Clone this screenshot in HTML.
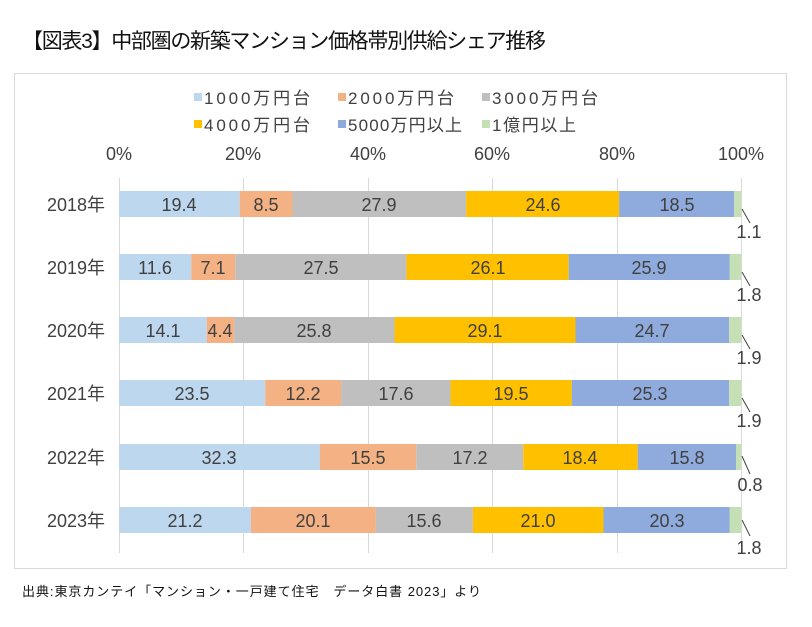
<!DOCTYPE html>
<html><head><meta charset="utf-8"><style>
html,body{margin:0;padding:0;background:#fff}
svg{display:block}
text{font-family:"Liberation Sans","Noto Sans CJK JP",sans-serif;fill:#404040}
</style></head><body>
<svg width="812" height="627" viewBox="0 0 812 627" xmlns="http://www.w3.org/2000/svg">
<text x="22" y="48" font-size="21" style="fill:#111" textLength="524">【図表3】中部圏の新築マンション価格帯別供給シェア推移</text>
<rect x="14.5" y="73.5" width="772" height="495" fill="#fff" stroke="#d9d9d9"/>
<g font-size="17">
<rect x="194" y="93" width="8" height="8" fill="#BDD7EE"/><text x="204" y="104" textLength="106">1000万円台</text>
<rect x="338" y="93" width="8" height="8" fill="#F4B183"/><text x="348" y="104" textLength="106">2000万円台</text>
<rect x="482" y="93" width="8" height="8" fill="#BFBFBF"/><text x="492" y="104" textLength="106">3000万円台</text>
<rect x="194" y="120" width="8" height="8" fill="#FFC000"/><text x="204" y="131" textLength="106">4000万円台</text>
<rect x="338" y="120" width="8" height="8" fill="#8FAADC"/><text x="348" y="131" textLength="114">5000万円以上</text>
<rect x="482" y="120" width="8" height="8" fill="#C5E0B4"/><text x="492" y="131" textLength="84">1億円以上</text>
</g>
<g font-size="18" text-anchor="middle">
<text x="119" y="160">0%</text><text x="243" y="160">20%</text><text x="368" y="160">40%</text>
<text x="492" y="160">60%</text><text x="617" y="160">80%</text><text x="741" y="160">100%</text>
</g>
<g stroke="#d9d9d9" stroke-width="1">
<line x1="119.5" y1="178" x2="119.5" y2="553"/><line x1="243.5" y1="178" x2="243.5" y2="553"/>
<line x1="368.5" y1="178" x2="368.5" y2="553"/><line x1="492.5" y1="178" x2="492.5" y2="553"/>
<line x1="617.5" y1="178" x2="617.5" y2="553"/><line x1="741.5" y1="178" x2="741.5" y2="553"/>
</g>
<g>
<rect x="119" y="191" width="120.7" height="26" fill="#BDD7EE"/><rect x="239.7" y="191" width="52.8" height="26" fill="#F4B183"/><rect x="292.5" y="191" width="173.6" height="26" fill="#BFBFBF"/><rect x="466.1" y="191" width="153" height="26" fill="#FFC000"/><rect x="619.1" y="191" width="115.1" height="26" fill="#8FAADC"/><rect x="734.2" y="191" width="6.8" height="26" fill="#C5E0B4"/>
<rect x="119" y="254" width="72.2" height="26" fill="#BDD7EE"/><rect x="191.2" y="254" width="44.1" height="26" fill="#F4B183"/><rect x="235.3" y="254" width="171.1" height="26" fill="#BFBFBF"/><rect x="406.4" y="254" width="162.3" height="26" fill="#FFC000"/><rect x="568.7" y="254" width="161.1" height="26" fill="#8FAADC"/><rect x="729.8" y="254" width="11.2" height="26" fill="#C5E0B4"/>
<rect x="119" y="317" width="87.7" height="26" fill="#BDD7EE"/><rect x="206.7" y="317" width="27.4" height="26" fill="#F4B183"/><rect x="234.1" y="317" width="160.4" height="26" fill="#BFBFBF"/><rect x="394.5" y="317" width="181" height="26" fill="#FFC000"/><rect x="575.5" y="317" width="153.7" height="26" fill="#8FAADC"/><rect x="729.2" y="317" width="11.8" height="26" fill="#C5E0B4"/>
<rect x="119" y="380" width="146.2" height="26" fill="#BDD7EE"/><rect x="265.2" y="380" width="75.9" height="26" fill="#F4B183"/><rect x="341.1" y="380" width="109.4" height="26" fill="#BFBFBF"/><rect x="450.5" y="380" width="121.3" height="26" fill="#FFC000"/><rect x="571.8" y="380" width="157.4" height="26" fill="#8FAADC"/><rect x="729.2" y="380" width="11.8" height="26" fill="#C5E0B4"/>
<rect x="119" y="444" width="200.9" height="26" fill="#BDD7EE"/><rect x="319.9" y="444" width="96.4" height="26" fill="#F4B183"/><rect x="416.3" y="444" width="107" height="26" fill="#BFBFBF"/><rect x="523.3" y="444" width="114.4" height="26" fill="#FFC000"/><rect x="637.7" y="444" width="98.3" height="26" fill="#8FAADC"/><rect x="736" y="444" width="5" height="26" fill="#C5E0B4"/>
<rect x="119" y="507" width="131.9" height="26" fill="#BDD7EE"/><rect x="250.9" y="507" width="125" height="26" fill="#F4B183"/><rect x="375.9" y="507" width="97" height="26" fill="#BFBFBF"/><rect x="472.9" y="507" width="130.6" height="26" fill="#FFC000"/><rect x="603.5" y="507" width="126.3" height="26" fill="#8FAADC"/><rect x="729.8" y="507" width="11.2" height="26" fill="#C5E0B4"/>
</g>
<g font-size="18" text-anchor="end">
<text x="105" y="211">2018年</text><text x="105" y="274">2019年</text><text x="105" y="337">2020年</text>
<text x="105" y="400">2021年</text><text x="105" y="464">2022年</text><text x="105" y="527">2023年</text>
</g>
<g font-size="18" text-anchor="middle">
<text x="179" y="211">19.4</text><text x="266" y="211">8.5</text><text x="379" y="211">27.9</text><text x="543" y="211">24.6</text><text x="677" y="211">18.5</text>
<text x="155" y="274">11.6</text><text x="213" y="274">7.1</text><text x="321" y="274">27.5</text><text x="488" y="274">26.1</text><text x="649" y="274">25.9</text>
<text x="163" y="337">14.1</text><text x="220" y="337">4.4</text><text x="314" y="337">25.8</text><text x="485" y="337">29.1</text><text x="652" y="337">24.7</text>
<text x="192" y="400">23.5</text><text x="303" y="400">12.2</text><text x="396" y="400">17.6</text><text x="511" y="400">19.5</text><text x="650" y="400">25.3</text>
<text x="219" y="464">32.3</text><text x="368" y="464">15.5</text><text x="470" y="464">17.2</text><text x="580" y="464">18.4</text><text x="687" y="464">15.8</text>
<text x="185" y="527">21.2</text><text x="313" y="527">20.1</text><text x="424" y="527">15.6</text><text x="538" y="527">21.0</text><text x="667" y="527">20.3</text>
<text x="749" y="238">1.1</text><text x="749" y="301">1.8</text><text x="749" y="364">1.9</text>
<text x="749" y="427">1.9</text><text x="750" y="491">0.8</text><text x="749" y="554">1.8</text>
</g>
<g stroke="#404040" stroke-width="1">
<line x1="742" y1="209" x2="750" y2="223"/><line x1="742" y1="272" x2="750" y2="286"/><line x1="742" y1="335" x2="750" y2="349"/>
<line x1="742" y1="398" x2="750" y2="412"/><line x1="742" y1="456" x2="750" y2="474"/><line x1="742" y1="520" x2="750" y2="536"/>
</g>
<text x="22" y="596" font-size="13" style="fill:#111" textLength="459">出典:東京カンテイ「マンション・一戸建て住宅　データ白書 2023」より</text>
</svg>
</body></html>
